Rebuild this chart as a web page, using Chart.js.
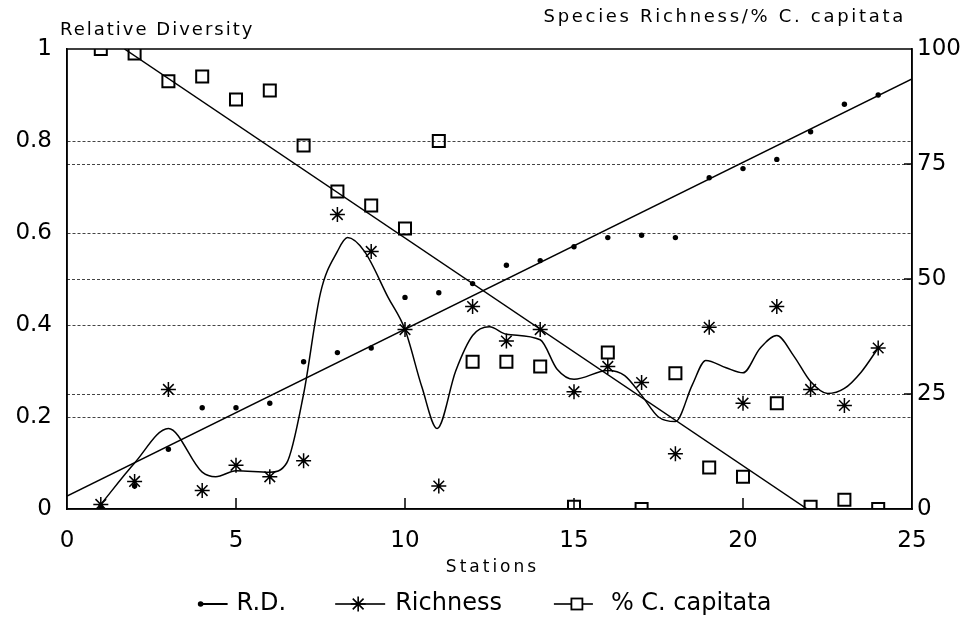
<!DOCTYPE html>
<html><head><meta charset="utf-8">
<script src="https://cdn.jsdelivr.net/npm/chart.js@4/dist/chart.umd.min.js"></script>
<style>html,body{margin:0;padding:0;background:#fff;}canvas{display:block;}</style>
</head><body>
<canvas id="c" width="966" height="634"></canvas>
<script>
// ---- data ----
const stations = [1,2,3,4,5,6,7,8,9,10,11,12,13,14,15,16,17,18,19,20,21,22,23,24];
const rdValues = [0.005,0.05,0.13,0.22,0.22,0.23,0.32,0.34,0.35,0.46,0.47,0.49,0.53,0.54,0.57,0.59,0.595,0.59,0.72,0.74,0.76,0.82,0.88,0.90];
const richnessValues = [1,6,26,4,9.5,7,10.5,64,56,39,5,44,36.5,39,25.5,31,27.5,12,39.5,23,44,26,22.5,35];
const capitataValues = [100,99,93,94,89,91,79,69,66,61,80,32,32,31,0.5,34,0,29.5,9,7,23,0.5,2,0];
// fitted trend lines (end points)
const rdFitX = [0,25];
const rdFitY = [0.028,0.935];
const capFitX = [1.7,21.9];
const capFitY = [100,0];
// smoothed richness curve
const richCurveX = [1,2,3,4,4.4,5,6,6.5,7,7.5,8,8.3,8.8,9.5,10,10.5,10.95,11.5,12,12.5,13,14,14.5,15,16,16.5,17,17.5,18,18.5,18.9,19.5,20,20.5,21,21.5,22,22.5,23,23.5,24];
const richCurveY = [1,10,17.5,8,7,8.3,8,10,25,47,56,59,56,46,39,26.5,17.5,30,37.7,39.6,38,36.8,30.4,28.2,30.1,29,24.7,20,19,27,32.3,30.7,29.6,34.9,37.7,33.3,27.7,25.1,26.2,29.8,35];
// labels
const seriesNames = ['R.D.','Richness','% C. capitata'];
const leftAxisTitle = 'Relative Diversity';
const rightAxisTitle = 'Species Richness/% C. capitata';
const xAxisTitle = 'Stations';

const FONT = 'DejaVu Sans';
const LEG_BOX = 58, LEG_FONT = 24;
const pts = (xs, ys) => xs.map((x,i)=>({x:x, y:ys[i]}));
const blank = document.createElement('canvas'); blank.width = 1; blank.height = 1;

function drawIcon(ctx, kind, T, y){
  ctx.save();
  ctx.setLineDash([]);
  ctx.globalAlpha = 1;
  ctx.strokeStyle='#000'; ctx.fillStyle='#000'; ctx.lineWidth=1.6;
  if(kind===0){
    ctx.fillRect(T-37, y-1, 28, 2);
    ctx.beginPath(); ctx.arc(T-36,y,2.8,0,Math.PI*2); ctx.fill();
  } else if(kind===1){
    ctx.fillRect(T-60, y-0.8, 50, 1.6);
    const r=7.5, cx=T-37; ctx.beginPath();
    ctx.moveTo(cx,y-r); ctx.lineTo(cx,y+r); ctx.moveTo(cx-r,y); ctx.lineTo(cx+r,y);
    const d=r*0.72; ctx.moveTo(cx-d,y-d); ctx.lineTo(cx+d,y+d); ctx.moveTo(cx-d,y+d); ctx.lineTo(cx+d,y-d); ctx.stroke();
  } else {
    ctx.fillRect(T-57, y-0.8, 39, 1.6);
    const cx=T-34; ctx.fillStyle='#fff'; ctx.fillRect(cx-5.5,y-5.5,11,11); ctx.lineWidth=1.8; ctx.strokeRect(cx-5.5,y-5.5,11,11);
  }
  ctx.restore();
}

const overlay = {
  id:'overlay',
  afterDraw(chart){
    const ctx=chart.ctx, a=chart.chartArea;
    ctx.save();
    ctx.strokeStyle='#000'; ctx.lineWidth=1.5;
    ctx.strokeRect(a.left,a.top,a.right-a.left,a.bottom-a.top);
    const xs=chart.scales.x, y1=chart.scales.y1;
    ctx.beginPath();
    [5,10,15,20].forEach(v=>{const px=xs.getPixelForValue(v); ctx.moveTo(px,a.bottom); ctx.lineTo(px,a.bottom-11);});
    [25,50,75].forEach(v=>{const py=y1.getPixelForValue(v); ctx.moveTo(a.right,py); ctx.lineTo(a.right-8,py);});
    ctx.stroke();
    ctx.restore();
    // legend symbols next to the library's legend labels
    const hb = (chart.legend && chart.legend.legendHitBoxes) || [];
    hb.forEach((b,k)=>{ drawIcon(ctx, k, b.left + LEG_BOX + LEG_FONT/2, b.top + b.height/2); });
    ctx.save();
    ctx.fillStyle='#000';
    ctx.textBaseline='middle';
    ctx.font='18px "'+FONT+'"';
    ctx.letterSpacing='2px';
    ctx.textAlign='left';
    ctx.fillText(leftAxisTitle,60,30);
    ctx.letterSpacing='2.7px';
    ctx.textAlign='right';
    ctx.fillText(rightAxisTitle,906,17);
    ctx.font='17px "'+FONT+'"';
    ctx.letterSpacing='3px';
    ctx.textAlign='center';
    ctx.fillText(xAxisTitle,(a.left+a.right)/2+3,568);
    ctx.restore();
  }
};

const fmt = v => String(+Number(v).toFixed(2));

new Chart(document.getElementById('c'),{
  type:'scatter',
  data:{datasets:[
    {label:seriesNames[0], data:pts(stations,rdValues), yAxisID:'y', pointStyle:'circle', pointRadius:2.7, backgroundColor:'#000', borderColor:'#000', borderWidth:0},
    {label:'rdfit', data:pts(rdFitX,rdFitY), yAxisID:'y', showLine:true, pointRadius:0, borderColor:'#000', borderWidth:1.5},
    {label:seriesNames[1], data:pts(stations,richnessValues), yAxisID:'y1', pointStyle:'star', pointRadius:7.5, borderColor:'#000', borderWidth:1.5, backgroundColor:'#000'},
    {label:'richcurve', data:pts(richCurveX,richCurveY), yAxisID:'y1', showLine:true, pointRadius:0, borderColor:'#000', borderWidth:1.5, cubicInterpolationMode:'monotone'},
    {label:seriesNames[2], data:pts(stations,capitataValues), yAxisID:'y1', pointStyle:'rect', pointRadius:8.5, borderColor:'#000', borderWidth:2, backgroundColor:'rgba(0,0,0,0)'},
    {label:'capfit', data:pts(capFitX,capFitY), yAxisID:'y1', showLine:true, pointRadius:0, borderColor:'#000', borderWidth:1.5}
  ]},
  options:{
    responsive:false, animation:false, events:[],
    layout:{padding:{top:49,bottom:8,left:-28,right:0}},
    scales:{
      x:{type:'linear',min:0,max:25,
        ticks:{stepSize:5,padding:18,color:'#000',font:{family:FONT,size:23},callback:fmt},
        grid:{display:false,drawTicks:false},
        border:{display:true,color:'#000',width:1.5},
        afterFit:s=>{s.height=44;}},
      y:{position:'left',min:0,max:1,
        ticks:{stepSize:0.2,padding:15,color:'#000',font:{family:FONT,size:23},callback:fmt},
        grid:{drawTicks:false,lineWidth:1,color:c=>(c.tick&&c.tick.value>0.001&&c.tick.value<0.999)?'#444':'rgba(0,0,0,0)'},
        border:{display:true,color:'#000',width:1.5,dash:[3,2]},
        afterFit:s=>{s.width=95;}},
      y1:{position:'right',min:0,max:100,
        ticks:{stepSize:25,padding:5,color:'#000',font:{family:FONT,size:23},callback:fmt},
        grid:{drawTicks:false,lineWidth:1,color:c=>(c.tick&&c.tick.value>0.1&&c.tick.value<99.9)?'#444':'rgba(0,0,0,0)'},
        border:{display:true,color:'#000',width:1.5,dash:[3,2]},
        afterFit:s=>{s.width=54;}}
    },
    plugins:{
      tooltip:{enabled:false},
      legend:{position:'bottom',
        labels:{usePointStyle:true,pointStyleWidth:LEG_BOX,padding:39,color:'#000',font:{family:FONT,size:LEG_FONT},
          generateLabels:(chart)=>[0,2,4].map((di,k)=>({text:seriesNames[k],pointStyle:blank,fillStyle:'#000',strokeStyle:'#000',lineWidth:0,hidden:false,datasetIndex:di,fontColor:'#000'}))}}
    }
  },
  plugins:[overlay]
});
</script></body></html>
